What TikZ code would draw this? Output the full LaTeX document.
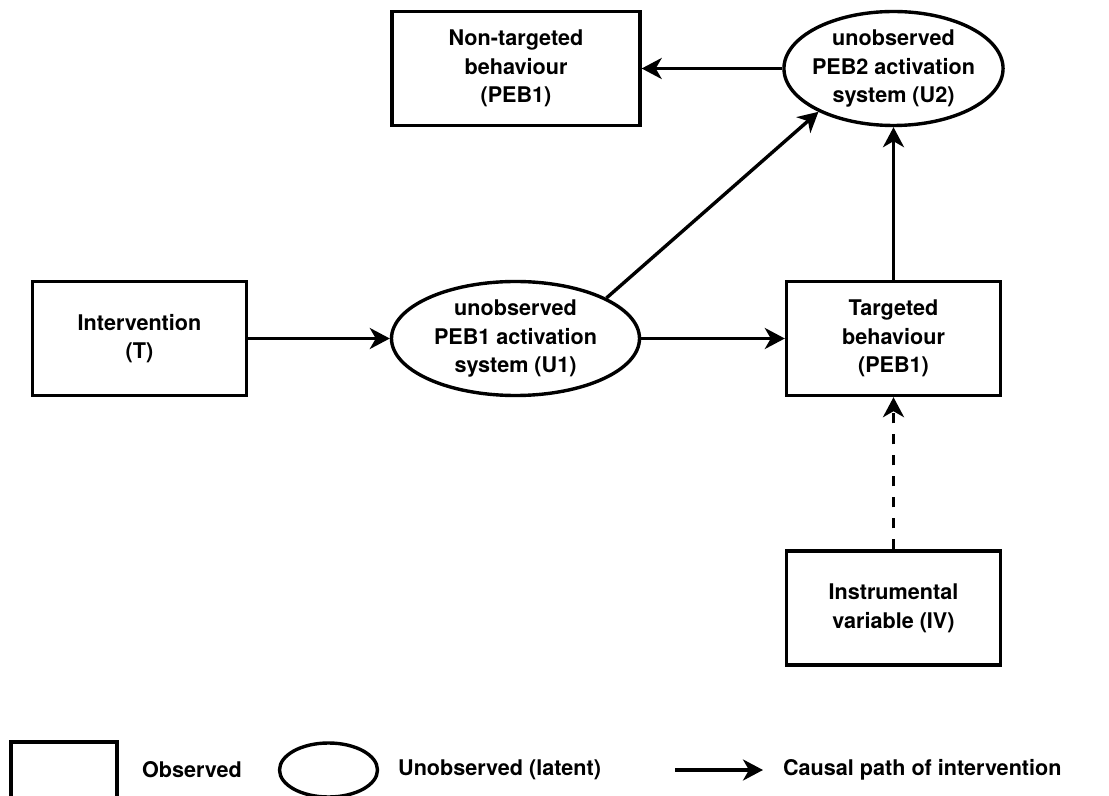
\documentclass[tikz,border=0pt]{standalone}
\usepackage{fontspec}
\setmainfont{TeX Gyre Heros}
\usetikzlibrary{shapes.geometric, arrows.meta}
\definecolor{PathBlack}{HTML}{000000}
\tikzset{
    label font/.style={font=\bfseries\fontsize{10.8}{14.3}\selectfont},
    observed/.style={draw=PathBlack, line width=1.7pt, rectangle, align=center,
        minimum width=107pt, minimum height=57pt, label font},
    latent/.style={draw=PathBlack, line width=1.7pt, ellipse, align=center,
        inner xsep=-2pt, inner ysep=0pt, minimum width=107pt, minimum height=57pt, label font},
    causal/.style={PathBlack, line width=1.7pt, -{Stealth[length=10pt, width=10.5pt, inset=3pt]}},
    instrument/.style={causal, dash pattern=on 5pt off 5.5pt}
}

\begin{document}
\begin{tikzpicture}[x=0.5pt, y=-0.5pt]
    % =========================================
    % 1. 画布 (Canvas)
    % =========================================
    \useasboundingbox (0,0) rectangle (1109,796);
    \clip (0,0) rectangle (1109,796);

    % =========================================
    % 2. 节点 (Nodes)
    % =========================================
    \node[observed, minimum width=124pt] (nontarget) at (516,68.5) {Non-targeted\\behaviour\\(PEB1)};
    \node[latent] (U2) at (893.5,68.5) {unobserved\\PEB2 activation\\system (U2)};
    \node[observed] (T) at (139.5,338.5) {Intervention\\(T)};
    \node[latent, minimum width=124pt] (U1) at (515.5,338.5) {unobserved\\PEB1 activation\\system (U1)};
    \node[observed] (target) at (893.5,338.5) {Targeted\\behaviour\\(PEB1)};
    \node[observed] (IV) at (893.5,608) {Instrumental\\variable (IV)};

    % =========================================
    % 3. 连线 (Paths)
    % =========================================
    \draw[causal] (T) -- (U1);
    \draw[causal] (U1) -- (target);
    \draw[causal] (U1.24) -- (U2.210);
    \draw[causal] (target) -- (U2);
    \draw[causal] (U2) -- (nontarget);
    \draw[instrument] (IV) -- (target);

    % =========================================
    % 4. 图例 (Legend)
    % =========================================
    \node[observed, minimum width=53pt, minimum height=30pt] (legObs) at (64,772) {};
    \node[label font, anchor=west] (legObsText) at (135,770) {Observed};
    \node[latent, minimum width=49pt, minimum height=27pt] (legLat) at (328.5,770) {};
    \node[label font, anchor=west] (legLatText) at (391,770) {Unobserved (latent)};
    \coordinate (legA) at (675,770);
    \coordinate (legB) at (763,770);
    \draw[causal] (legA) -- (legB);
    \node[label font, anchor=west] (legPathText) at (776,770) {Causal path of intervention};

\end{tikzpicture}
\end{document}
